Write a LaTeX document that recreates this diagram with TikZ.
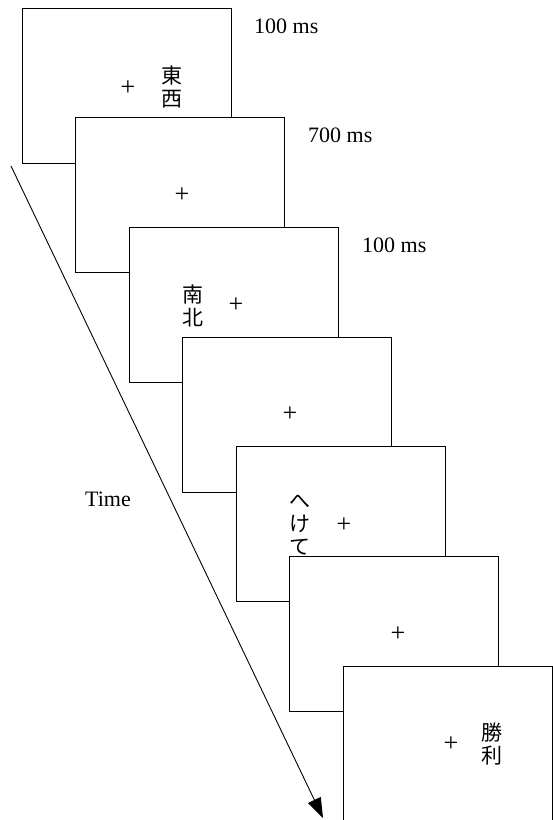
\documentclass[tikz,border=0pt]{standalone}
\usepackage{fontspec}
\setmainfont{Liberation Serif}
\newfontfamily\jp{Noto Sans CJK JP}
\usetikzlibrary{arrows.meta}
\begin{document}
\begin{tikzpicture}[x=1pt,y=-1pt,
  screen/.style={draw=black,line width=0.9pt,fill=white,minimum width=209pt,minimum height=155pt,inner sep=0pt},
  lbl/.style={font=\fontsize{22}{24}\selectfont,inner sep=0pt},
  fix/.style={font=\fontsize{26}{28}\selectfont,inner sep=0pt},
  word/.style={font=\jp\fontsize{21}{23}\selectfont,align=center,inner sep=0pt}]
\useasboundingbox (0,0) rectangle (553,820);
\fill[white] (0,0) rectangle (553,820);
\coordinate (t0) at (11,166);
\coordinate (t1) at (323,818);
\draw[line width=0.9pt,-{Triangle[length=20pt,width=14pt]}] (t0) -- (t1);
\begin{scope}
\clip (0,0) rectangle (553,820);
\node[screen] (s1) at (126.5,85.5) {};
\node[screen] (s2) at (180,195.2) {};
\node[screen] (s3) at (233.5,304.9) {};
\node[screen] (s4) at (287,414.6) {};
\node[screen] (s5) at (340.5,524.3) {};
\node[screen] (s6) at (394,634) {};
\node[screen] (s7) at (447.5,743.7) {};
\end{scope}
\node[fix] (f1) at (128,88) {+};
\node[word] (w1) at (172,86.5) {東\\西};
\node[fix] (f2) at (182,195) {+};
\node[word] (w3) at (193,306) {南\\北};
\node[fix] (f3) at (236,305) {+};
\node[fix] (f4) at (290,414) {+};
\node[word] (w5) at (300,524.5) {へ\\け\\て};
\node[fix] (f5) at (344,525) {+};
\node[fix] (f6) at (398,634) {+};
\node[fix] (f7) at (451,744) {+};
\node[word] (w7) at (492,744) {勝\\利};
\node[lbl,anchor=west] (d1) at (254,26) {100 ms};
\node[lbl,anchor=west] (d2) at (308,135) {700 ms};
\node[lbl,anchor=west] (d3) at (362,245) {100 ms};
\node[lbl] (time) at (108,499) {Time};
\end{tikzpicture}
\end{document}
